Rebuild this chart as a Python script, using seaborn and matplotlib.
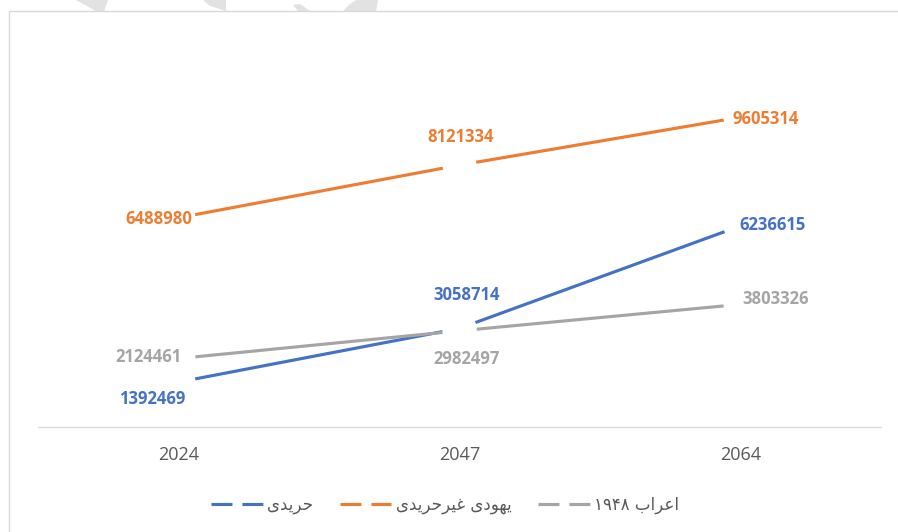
import matplotlib
matplotlib.use('Agg')
import matplotlib.pyplot as plt
import pandas as pd
import seaborn as sns
from matplotlib.lines import Line2D
from matplotlib.patches import Polygon

# data
years = ['2024', '2047', '2064']
haredi = [1392469, 3058714, 6236615]
non_haredi = [6488980, 8121334, 9605314]
arabs = [2124461, 2982497, 3803326]

# series names (arabic presentation forms, visual order, since matplotlib does no shaping)
haredi_name = '\uFEEF\uFEAA\uFEF3\uFEAE\uFEA3'
non_haredi_name = '\uFEEF\uFEAA\uFEF3\uFEAE\uFEA3\uFEAE\uFEF4\uFECF \uFEEF\uFEA9\uFEEE\uFEEC\uFEF3'
arabs_name = '\u06F1\u06F9\u06F4\u06F8 \uFE8F\uFE8D\uFEAE\uFECB\uFE8D'

series = [haredi_name, non_haredi_name, arabs_name]
values = {haredi_name: haredi, non_haredi_name: non_haredi, arabs_name: arabs}
colors = {haredi_name: '#4472C4', non_haredi_name: '#ED7D31', arabs_name: '#A5A5A5'}

# label offsets from each point, in pixels
label_offsets = {
    non_haredi_name: [(-20, -1), (1, 28), (25, -2)],
    haredi_name: [(-26, -17), (7, 33), (32, 1)],
    arabs_name: [(-30, 1), (7, -28), (35, 5)],
}

rows = []
for s in series:
    for y, v in zip(years, values[s]):
        rows.append({'year': y, 'value': v, 'series': s})
df = pd.DataFrame(rows)

sns.set_theme(style='white')
plt.rcParams['font.family'] = ['Open Sans', 'DejaVu Sans']

W, H = 898, 532
fig = plt.figure(figsize=(W / 100, H / 100), dpi=100)
ax = fig.add_axes([38 / W, 105 / H, 843 / W, 387 / H])

sns.lineplot(data=df, x='year', y='value', hue='series', hue_order=series,
             palette=colors, linewidth=2.25, legend=False, sort=False, ax=ax, zorder=2)
# white markers that cut the lines around each point
sns.scatterplot(data=df, x='year', y='value', color='white', s=600,
                edgecolor='none', legend=False, ax=ax, zorder=3)

for s in series:
    for i, v in enumerate(values[s]):
        dx, dy = label_offsets[s][i]
        ax.annotate(str(v), (i, v), xytext=(dx, dy), textcoords='offset pixels',
                    ha='center', va='center', color=colors[s], fontsize=12,
                    fontweight='bold', zorder=4)

ax.set_xlim(-0.5, 2.5)
ax.set_ylim(0, 12000000)
ax.set_yticks([])
ax.set_xlabel('')
ax.set_ylabel('')
for side in ['top', 'left', 'right']:
    ax.spines[side].set_visible(False)
ax.spines['bottom'].set_color('#d9d9d9')
ax.spines['bottom'].set_linewidth(0.9)
ax.tick_params(axis='x', length=0, pad=14, labelsize=13, labelcolor='#595959')

# legend with broken-line handles
handles = [Line2D([], [], color=colors[s], lw=2.25, linestyle=(0, (6.7, 3.2))) for s in series]
fig.legend(handles, series, loc='center', bbox_to_anchor=(445 / W, 1 - 505 / H), ncol=3,
           frameon=False, fontsize=12, handlelength=3.1, handletextpad=0.25,
           columnspacing=1.6, labelcolor='#595959', prop={'family': ['DejaVu Sans'], 'size': 12})

# chart frame (top and left edges visible)
fig.add_artist(Line2D([9 / W, 1], [1 - 11 / H, 1 - 11 / H], transform=fig.transFigure,
                      color='#d9d9d9', lw=1))
fig.add_artist(Line2D([9 / W, 9 / W], [0, 1 - 11 / H], transform=fig.transFigure,
                      color='#d9d9d9', lw=1))

# faint watermark pieces above the frame
wm = [
    [(76, 0), (108, 0), (104, 11), (96, 11)],
    [(203, 0), (226, 0), (226, 11), (210, 6)],
    [(293, 5), (300, 4), (310, 11), (298, 11)],
    [(343, 11), (350, 4), (356, 0), (378, 0), (376, 11)],
]
for pts in wm:
    fig.add_artist(Polygon([(x / W, 1 - y / H) for x, y in pts], closed=True,
                           transform=fig.transFigure, color='#e2e2e2', lw=0, zorder=0))

fig.savefig('out.png', dpi=100)
